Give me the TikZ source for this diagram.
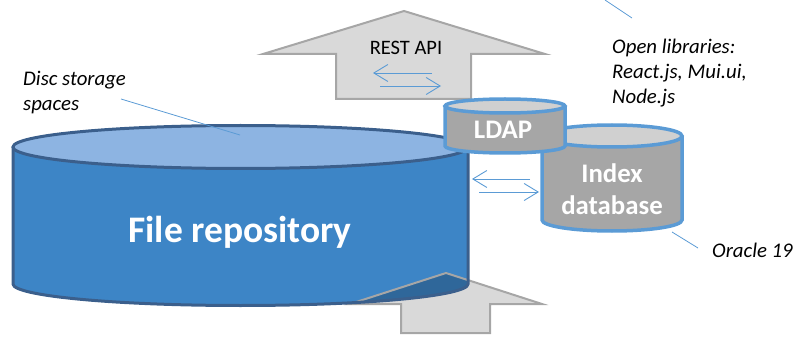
\documentclass[tikz,border=0pt]{standalone}
\usepackage{fontspec}
\setmainfont{Carlito}
\usetikzlibrary{arrows.meta}
\definecolor{arrowfill}{HTML}{D9D9D9}
\definecolor{arrowline}{HTML}{A6A6A6}
\definecolor{repoSide}{HTML}{3D85C6}
\definecolor{repoTop}{HTML}{8DB4E2}
\definecolor{repoLine}{HTML}{3B5F8C}
\definecolor{dbSide}{HTML}{A6A6A6}
\definecolor{dbTop}{HTML}{D0D0D0}
\definecolor{dbLine}{HTML}{5B9BD5}
\definecolor{thinblue}{HTML}{5B9BD5}
% #1 cx, #2 top cy, #3 bottom cy, #4 rx, #5 ry
\newcommand\cylside[5]{(#1-#4,#2) -- (#1-#4,#3) arc[start angle=180,end angle=0,x radius=#4,y radius=#5] -- (#1+#4,#2) -- cycle}
\newcommand\cylrim[5]{(#1-#4,#2) -- (#1-#4,#3) arc[start angle=180,end angle=0,x radius=#4,y radius=#5] -- (#1+#4,#2)}
\newcommand\cyltop[5]{(#1,#2) ellipse[x radius=#4,y radius=#5]}
\begin{document}
\begin{tikzpicture}[x=1pt,y=-1pt,
  bigarrow/.style={fill=arrowfill,draw=arrowline,line width=2pt,line join=miter},
  leader/.style={draw=thinblue,line width=0.8pt},
  flow/.style={draw=thinblue,line width=0.9pt,-{Straight Barb[length=14pt,width=17pt]}},
  lbl/.style={font=\fontsize{20.8}{25}\selectfont\itshape,align=left,anchor=west,inner sep=0pt},
  dbtext/.style={font=\fontsize{26.8}{32}\selectfont\bfseries,text=white,align=center,inner sep=0pt}]
\useasboundingbox (0,0) rectangle (798,342);
% REST API arrow
\path[bigarrow] (404,11) -- (545,54) -- (471,54) -- (471,99) -- (336,99) -- (336,54) -- (263,54) -- cycle;
\node[font=\fontsize{20.5}{24}\selectfont,inner sep=0pt] (rest) at (406,48) {REST API};
% bottom arrow
\path[bigarrow] (446,273) -- (542,304) -- (490,304) -- (490,333) -- (401,333) -- (401,304) -- (350,304) -- cycle;
% File repository cylinder
\fill[repoSide] \cylside{240.5}{147}{284}{227.5}{21.5};
\begin{scope}
  \clip \cylside{240.5}{147}{284}{227.5}{21.5};
  \path[fill=black,fill opacity=0.22,draw=arrowline,line width=2pt] (446,273) -- (542,304) -- (490,304) -- (490,333) -- (401,333) -- (401,304) -- (350,304) -- cycle;
\end{scope}
\draw[repoLine,line width=3pt] \cylrim{240.5}{147}{284}{227.5}{21.5};
\draw[repoLine,line width=3pt,fill=repoTop] \cyltop{240.5}{147}{284}{227.5}{21.5};
\node[font=\fontsize{37.5}{42}\selectfont\bfseries,text=white,inner sep=0pt] (repo) at (240,232) {File repository};
% Index database cylinder
\fill[dbSide] \cylside{612}{136}{220}{70}{11};
\draw[dbLine,line width=3.5pt] \cylrim{612}{136}{220}{70}{11};
\draw[dbLine,line width=3.5pt,fill=dbTop] \cyltop{612}{136}{220}{70}{11};
\node[dbtext] (index) at (612,189) {Index\\database};
% LDAP cylinder
\fill[dbSide] \cylside{505}{106}{146}{60}{7};
\draw[dbLine,line width=3.5pt] \cylrim{505}{106}{146}{60}{7};
\draw[dbLine,line width=3.5pt,fill=dbTop] \cyltop{505}{106}{146}{60}{7};
\node[dbtext] (ldap) at (503,130) {LDAP};
% exchange arrows
\coordinate (r1) at (432,73); \coordinate (r2) at (373,73);
\coordinate (r3) at (380,86); \coordinate (r4) at (441,86);
\draw[flow] (r1) -- (r2);
\draw[flow] (r3) -- (r4);
\coordinate (s1) at (530,179); \coordinate (s2) at (472,179);
\coordinate (s3) at (479,192); \coordinate (s4) at (539,192);
\draw[flow] (s1) -- (s2);
\draw[flow] (s3) -- (s4);
% labels
\node[lbl] (disc) at (23,93) {Disc storage\\spaces};
\coordinate (discA) at (121,99); \coordinate (discB) at (240,135);
\draw[leader] (discA) -- (discB);
\node[lbl] (libs) at (612,73) {Open libraries:\\React.js, Mui.ui,\\Node.js};
\coordinate (libA) at (605,0); \coordinate (libB) at (632,18);
\draw[leader] (libA) -- (libB);
\node[lbl] (oracle) at (712,250) {Oracle 19};
\coordinate (orA) at (672,232); \coordinate (orB) at (698,248);
\draw[leader] (orA) -- (orB);
\end{tikzpicture}
\end{document}
